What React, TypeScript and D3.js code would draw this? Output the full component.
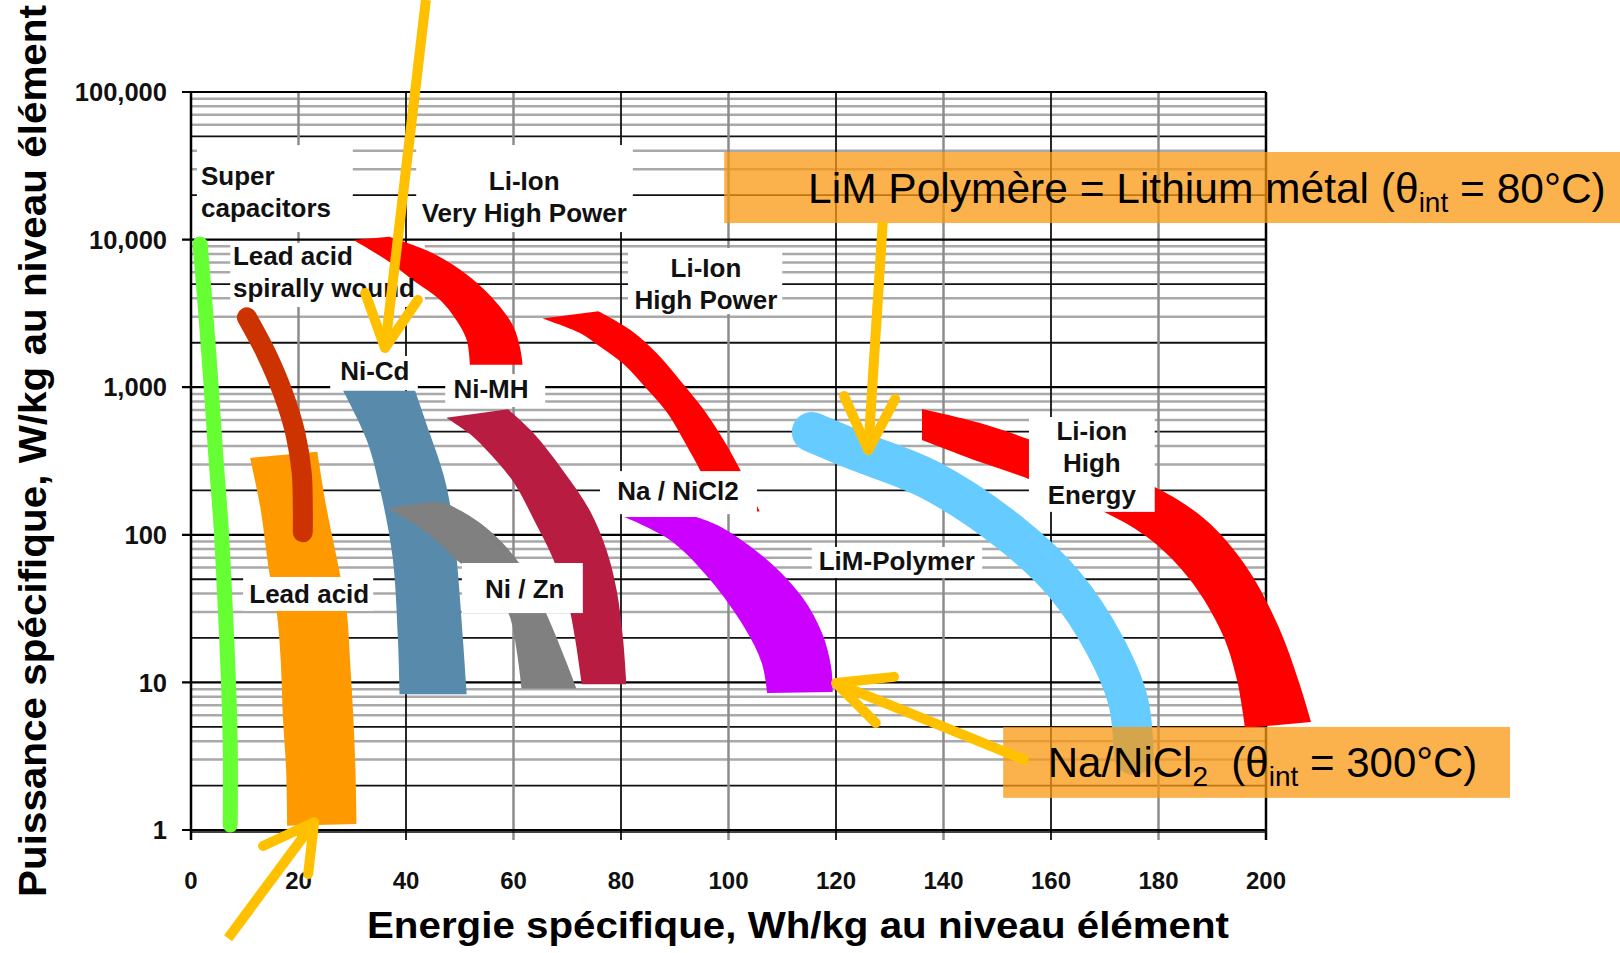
import React from 'react';
import * as d3 from 'd3';

type Pt = [number, number];

// ---------- axes ----------
const energyTicks = [0, 20, 40, 60, 80, 100, 120, 140, 160, 180, 200];
const powerTicks = [1, 10, 100, 1000, 10000, 100000];
const powerTickLabels = ['1', '10', '100', '1,000', '10,000', '100,000'];
const xTitle = 'Energie spécifique, Wh/kg au niveau élément';
const yTitle = 'Puissance spécifique, W/kg au niveau élément';

// ---------- technologies : [energy Wh/kg, power W/kg] ----------
// thin ones (centre lines)
const superCapLine: Pt[] = [[1.7, 9350], [2.7, 3330], [3.7, 1077], [4.6, 348], [5.6, 113], [6.3, 36.5], [6.9, 11.8], [7.3, 3.8], [7.3, 1.08]];
const leadAcidSpiralLine: Pt[] = [[10.4, 2973], [14.0, 1690], [17.1, 916], [19.4, 489], [20.6, 261], [20.8, 153], [20.8, 104]];
const limPolymerLine: Pt[] = [[115.5, 497], [123.5, 375], [137.5, 235], [152.4, 103], [162.6, 45.7], [170.0, 17.9], [174.3, 7.6], [175.4, 3.22]];

// bands (outer edge, then inner edge back)
const leadAcidLeft: Pt[] = [[11.0, 332], [12.9, 153], [14.6, 54.6], [15.96, 29.6], [16.7, 13.8], [17.1, 5.8], [17.7, 2.55], [17.9, 1.07]];
const leadAcidRight: Pt[] = [[30.8, 1.1], [30.6, 2.55], [30.2, 5.8], [29.6, 13.8], [29.0, 29.6], [27.7, 54.6], [25.2, 153], [23.5, 366]];

const niCdLeft: Pt[] = [[28.3, 946], [32.7, 437], [35.2, 201], [37.5, 70.6], [38.5, 19.4], [38.8, 8.3]];
const niCdRight: Pt[] = [[51.3, 8.3], [50.6, 19.4], [49.4, 70.6], [48.3, 153], [46.9, 261], [44.4, 489], [41.7, 946]];

const niZnOuter: Pt[] = [[36.7, 151], [46.3, 166], [49.4, 151], [53.8, 120], [58.1, 87], [61.5, 61], [64.4, 39.5], [67.3, 23.2], [69.8, 13.8], [71.7, 9.1]];
const niZnInner: Pt[] = [[61.5, 9.1], [60.6, 16.3], [59.4, 27.3], [56.7, 43], [53.3, 54.6], [50.0, 65], [45.0, 96], [40.4, 126]];

const niMhOuter: Pt[] = [[59.0, 708], [63.7, 489], [69.2, 273], [74.2, 146], [77.3, 79], [79.2, 42], [80.4, 19.4], [81.0, 9.7]];
const niMhInner: Pt[] = [[72.7, 9.7], [71.5, 19.4], [70.0, 36.5], [67.3, 69.5], [64.0, 122], [60.2, 222], [55.8, 348], [51.9, 481], [47.5, 622]];

const liIonVhpOuter: Pt[] = [[36.9, 10470], [45.0, 8090], [51.9, 5580], [56.9, 3725], [60.0, 2570], [61.2, 1862], [61.7, 1417]];
const liIonVhpInner: Pt[] = [[51.9, 1417], [51.3, 2085], [49.4, 2830], [46.3, 3910], [41.3, 5310], [36.5, 7220], [30.2, 9950]];

const liIonHpOuter: Pt[] = [[75.8, 3275], [81.7, 2450], [86.7, 1690], [91.0, 1112], [95.2, 719], [99.0, 444], [102.5, 261], [105.8, 144]];
const liIonHpInner: Pt[] = [[98.1, 144], [95.2, 252], [92.1, 409], [88.7, 664], [84.6, 993], [80.4, 1440], [76.0, 1893], [72.3, 2335], [65.4, 2925]];

const naNiCl2Outer: Pt[] = [[94.0, 132], [98.6, 113], [107.2, 67.5], [113.7, 37.9], [117.4, 21.6], [119.1, 12.7], [119.4, 8.61]];
const naNiCl2Inner: Pt[] = [[107.2, 8.48], [106.2, 13.5], [102.9, 23.7], [96.6, 49.4], [89.1, 92.2], [80.6, 132]];

const liIonHeOuter: Pt[] = [[136.0, 712], [146.8, 572], [156.3, 439], [167.3, 311], [179.3, 211], [188.8, 126], [196.3, 61], [202.3, 24], [206.0, 10.4], [208.4, 5.39]];
const liIonHeInner: Pt[] = [[196.1, 4.91], [194.6, 10.4], [191.8, 21.6], [185.9, 49.4], [178.6, 92.2], [170.2, 141], [161.7, 186], [156.3, 235], [146.8, 311], [136.0, 439]];

// ---------- labels (anchor of first baseline, white box extent) ----------
const techLabels = [
  { lines: ['Super', 'capacitors'], e: 1.86, p: 23400, anchor: 'start', box: [1.1, 11250, 30.1, 43700], under: false },
  { lines: ['Li-Ion', 'Very High Power'], e: 62.0, p: 21700, anchor: 'middle', box: [41.9, 11250, 82.2, 43700], under: false },
  { lines: ['Lead acid', 'spirally wound'], e: 7.8, p: 6730, anchor: 'start', box: [7.3, 3495, 43.5, 9480], under: true },
  { lines: ['Ni-Cd'], e: 34.2, p: 1119, anchor: 'middle', box: [25.9, 957, 42.2, 1627], under: false },
  { lines: ['Ni-MH'], e: 55.8, p: 845, anchor: 'middle', box: [47.3, 734, 65.9, 1228], under: false },
  { lines: ['Lead acid'], e: 22.0, p: 34.5, anchor: 'middle', box: [9.7, 30.5, 33.9, 51.8], under: false },
  { lines: ['Ni / Zn'], e: 62.1, p: 37.3, anchor: 'middle', box: [50.4, 29.5, 72.9, 64.4], under: false },
  { lines: ['Li-Ion', 'High Power'], e: 95.8, p: 5580, anchor: 'middle', box: [81.3, 3133, 110.0, 8770], under: false },
  { lines: ['Na / NiCl2'], e: 90.6, p: 172, anchor: 'middle', box: [76.1, 138, 105.3, 270], under: false },
  { lines: ['LiM-Polymer'], e: 131.3, p: 57.8, anchor: 'middle', box: [115.5, 51, 147.2, 82.7], under: false },
  { lines: ['Li-ion', 'High', 'Energy'], e: 167.6, p: 439, anchor: 'middle', box: [155.9, 143, 179.3, 628], under: false },
];

// ---------- annotation call-outs ----------
const limNote = { box: [99.2, 12950, 265.9, 39200], e: 114.8, p: 17700 };
const naNote = { box: [151.1, 1.65, 245.4, 4.99], e: 159.4, p: 2.29 };
const arrows: { tail: Pt; tip: Pt; arms: [Pt, Pt] }[] = [
  { tail: [43.7, 420000], tip: [36.1, 1845], arms: [[32.4, 4345], [42.2, 3900]] },
  { tail: [128.7, 13150], tip: [126.0, 375], arms: [[121.5, 872], [131.0, 832]] },
  { tail: [155.7, 2.93], tip: [120.0, 9.9], arms: [[130.8, 10.9], [127.4, 5.31]] },
  { tail: [6.9, 0.185], tip: [22.9, 1.13], arms: [[13.4, 0.78], [21.8, 0.503]] },
];

const FONT = "'Liberation Sans', Arial, Helvetica, sans-serif";

export default function App() {
  const W = 1620, H = 953;
  const x = d3.scaleLinear().domain([0, 200]).range([191, 1266]);
  const y = d3.scaleLog().domain([1, 100000]).range([830, 92]);
  const smooth = d3.line<Pt>().x(d => x(d[0])).y(d => y(d[1])).curve(d3.curveCatmullRom.alpha(0.5));
  const straight = d3.line<Pt>().x(d => x(d[0])).y(d => y(d[1]));
  const band = (a: Pt[], b: Pt[]) => (smooth(a) as string) + 'L' + (smooth(b) as string).slice(1) + 'Z';

  const x0 = x(0), x1 = x(200), yTop = y(100000), yBot = y(1);
  const minor = y.ticks().filter(v => !powerTicks.includes(v));
  const isDark = (v: number) => {
    const m = Math.round(v / Math.pow(10, Math.floor(Math.log10(v) + 1e-9)));
    return m === 2 || m === 5;
  };

  const boxRect = (b: number[], key: string, fill = '#fff', extra: any = {}) => {
    const xa = x(b[0]), xb = x(b[2]), ya = y(b[3]), yb = y(b[1]);
    return <rect key={key} x={xa} y={ya} width={xb - xa} height={yb - ya} fill={fill} {...extra} />;
  };

  const bands = [
    { d: band(leadAcidLeft, leadAcidRight), fill: '#ff9900' },
    { d: band(niCdLeft, niCdRight), fill: '#588bab' },
    { d: band(niZnOuter, niZnInner), fill: '#808080' },
    { d: band(niMhOuter, niMhInner), fill: '#b81c40' },
    { d: band(liIonVhpOuter, liIonVhpInner), fill: '#ff0000' },
    { d: band(liIonHpOuter, liIonHpInner), fill: '#ff0000' },
    { d: band(naNiCl2Outer, naNiCl2Inner), fill: '#cc00ff' },
    { d: band(liIonHeOuter, liIonHeInner), fill: '#ff0000' },
  ];

  return (
    <svg width={W} height={H} viewBox={`0 0 ${W} ${H}`}
      style={{ position: 'absolute', left: 0, top: 0, display: 'block', background: '#fff' }}
      fontFamily={FONT}>
      <rect x={0} y={0} width={W} height={H} fill="#fff" />

      {/* grid */}
      <g>
        {minor.filter(v => !isDark(v)).map(v => (
          <line key={'gm' + v} x1={x0} x2={x1} y1={y(v)} y2={y(v)} stroke="#a9a9a9" strokeWidth={2.5} />
        ))}
        {minor.filter(v => isDark(v)).map(v => (
          <line key={'gd' + v} x1={x0} x2={x1} y1={y(v)} y2={y(v)} stroke="#111" strokeWidth={1.8} />
        ))}
        {energyTicks.slice(1, -1).map(v => (
          <line key={'gx' + v} x1={x(v)} x2={x(v)} y1={yTop} y2={yBot + 10}
            stroke={v % 40 === 0 ? '#111' : '#8c8c8c'} strokeWidth={v % 40 === 0 ? 1.8 : 2.5} />
        ))}
        {powerTicks.map(v => (
          <line key={'gy' + v} x1={x0 - 9} x2={x1} y1={y(v)} y2={y(v)} stroke="#000" strokeWidth={2.2} />
        ))}
        <line x1={x0} x2={x0} y1={yTop} y2={yBot + 10} stroke="#000" strokeWidth={2.5} />
        <line x1={x1} x2={x1} y1={yTop} y2={yBot + 10} stroke="#000" strokeWidth={2.5} />
        <line x1={x0} x2={x1} y1={yBot + 2} y2={yBot + 2} stroke="#000" strokeWidth={1.5} />
      </g>

      {/* label boxes that sit under the curves */}
      {techLabels.filter(l => l.under).map((l, i) => boxRect(l.box, 'ub' + i))}

      {/* technology bands */}
      {bands.slice(0, 1).map((b, i) => <path key={'b0' + i} d={b.d} fill={b.fill} />)}
      <path d={smooth(leadAcidSpiralLine) as string} fill="none" stroke="#cc3300" strokeWidth={20} strokeLinecap="round" />
      <path d={smooth(superCapLine) as string} fill="none" stroke="#66ff33" strokeWidth={15} strokeLinecap="round" />
      {bands.slice(1).map((b, i) => <path key={'b1' + i} d={b.d} fill={b.fill} />)}
      <path d={smooth(limPolymerLine) as string} fill="none" stroke="#66ccff" strokeWidth={40} strokeLinecap="round" />

      {/* label boxes over the curves */}
      {techLabels.filter(l => !l.under).map((l, i) => boxRect(l.box, 'ob' + i))}

      {/* label texts */}
      {techLabels.map((l, i) => (
        <text key={'lt' + i} x={x(l.e)} y={y(l.p)} textAnchor={l.anchor as any}
          fontSize={26} fontWeight="bold" fill="#111">
          {l.lines.map((s, j) => (
            <tspan key={j} x={x(l.e)} dy={j === 0 ? 0 : 32}>{s}</tspan>
          ))}
        </text>
      ))}

      {/* axis tick labels */}
      {powerTicks.map((v, i) => (
        <text key={'yl' + v} x={167} y={y(v)} dy="0.36em" textAnchor="end" fontSize={25.5} fontWeight="bold" fill="#111">
          {powerTickLabels[i]}
        </text>
      ))}
      {energyTicks.map(v => (
        <text key={'xl' + v} x={x(v)} y={889} textAnchor="middle" fontSize={24} fontWeight="bold" fill="#111">{v}</text>
      ))}

      {/* axis titles */}
      <text x={798} y={938} textAnchor="middle" fontSize={37} fontWeight="bold" fill="#000"
        textLength={862} lengthAdjust="spacingAndGlyphs">{xTitle}</text>
      <text transform={`translate(46, 451) rotate(-90)`} textAnchor="middle" fontSize={38} fontWeight="bold" fill="#000"
        textLength={892} lengthAdjust="spacingAndGlyphs">{yTitle}</text>

      {/* call-out boxes */}
      {boxRect(limNote.box, 'nb1', '#fb9810', { opacity: 0.75 })}
      {boxRect(naNote.box, 'nb2', '#fb9810', { opacity: 0.75 })}

      {/* arrows */}
      {arrows.map((a, i) => (
        <g key={'ar' + i} fill="none" stroke="#ffc000" strokeWidth={10} strokeLinecap="round" strokeLinejoin="round">
          <path d={straight([a.tail, a.tip]) as string} strokeLinecap="butt" />
          <path d={straight([a.arms[0], a.tip, a.arms[1]]) as string} />
        </g>
      ))}

      {/* call-out texts */}
      <text x={x(limNote.e)} y={y(limNote.p)} fontSize={42.5} fill="#000" style={{ whiteSpace: 'pre' }}>
        LiM Polymère = Lithium métal (θ<tspan fontSize={28} dy={9}>int</tspan><tspan dy={-9}> = 80°C)</tspan>
      </text>
      <text x={x(naNote.e)} y={y(naNote.p)} fontSize={42} fill="#000" style={{ whiteSpace: 'pre' }}>
        Na/NiCl<tspan fontSize={28} dy={9}>2</tspan><tspan dy={-9}>  (θ</tspan><tspan fontSize={28} dy={9}>int</tspan><tspan dy={-9}> = 300°C)</tspan>
      </text>
    </svg>
  );
}
